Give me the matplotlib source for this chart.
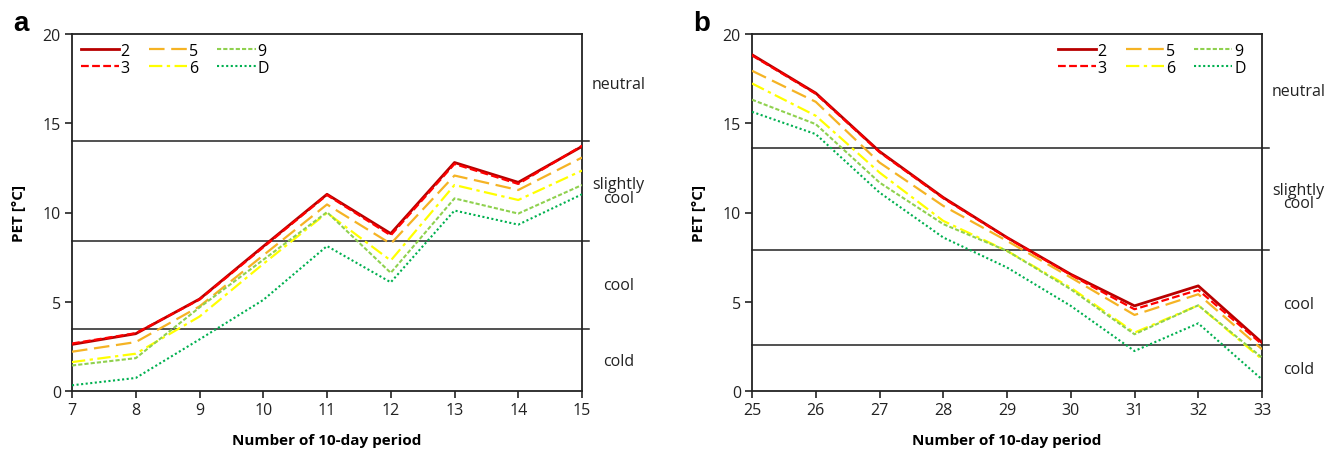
import matplotlib
matplotlib.use('Agg')
import matplotlib.pyplot as plt
import matplotlib.transforms as mtransforms

plt.rcParams['font.family'] = ['Open Sans', 'DejaVu Sans']
plt.rcParams['font.size'] = 11.5

# ---- data ----
series_names = ['2', '3', '5', '6', '9', 'D']

periods_a = [7, 8, 9, 10, 11, 12, 13, 14, 15]
pet_a = {
    '2': [2.61, 3.21, 5.15, 8.10, 11.02, 8.82, 12.80, 11.69, 13.70],
    '3': [2.66, 3.24, 5.12, 8.05, 10.98, 8.72, 12.72, 11.60, 13.74],
    '5': [2.20, 2.74, 4.74, 7.60, 10.45, 8.25, 12.07, 11.26, 13.08],
    '6': [1.62, 2.09, 4.17, 7.12, 9.98, 7.31, 11.54, 10.70, 12.35],
    '9': [1.43, 1.84, 4.68, 7.35, 10.02, 6.62, 10.79, 9.94, 11.54],
    'D': [0.32, 0.73, 2.89, 5.10, 8.12, 6.09, 10.11, 9.32, 11.02],
}
limits_a = [14.0, 8.4, 3.5]

periods_b = [25, 26, 27, 28, 29, 30, 31, 32, 33]
pet_b = {
    '2': [18.84, 16.69, 13.42, 10.84, 8.60, 6.54, 4.77, 5.89, 2.71],
    '3': [18.80, 16.65, 13.38, 10.80, 8.58, 6.50, 4.58, 5.66, 2.62],
    '5': [17.94, 16.20, 12.80, 10.37, 8.41, 6.36, 4.26, 5.42, 2.34],
    '6': [17.23, 15.42, 12.24, 9.53, 7.85, 5.79, 3.27, 4.80, 1.78],
    '9': [16.32, 14.95, 11.68, 9.35, 7.85, 5.70, 3.18, 4.80, 1.87],
    'D': [15.64, 14.39, 11.12, 8.60, 6.92, 4.77, 2.24, 3.79, 0.65],
}
limits_b = [13.64, 7.89, 2.58]

classes = ['neutral', 'slightly\ncool', 'cool', 'cold']

# ---- styles ----
styles = {
    '2': dict(color='#B80000', lw=2.0, ls='-'),
    '3': dict(color='#FF0000', lw=1.6, ls=(0, (3.5, 1.5))),
    '5': dict(color='#F5B324', lw=1.6, ls=(0, (7, 3))),
    '6': dict(color='#FFFF00', lw=1.6, ls=(0, (6, 2, 1.5, 2))),
    '9': dict(color='#8FD14F', lw=1.5, ls=(0, (2, 1))),
    'D': dict(color='#00B050', lw=1.5, ls=(0, (1, 1.2))),
}


def panel(ax, periods, pet, limits, class_y, letter, legend_loc, legend_anchor):
    for name in series_names:
        ax.plot(periods, pet[name], label=name, zorder=3, **styles[name])
    for lim in limits:
        ax.axhline(lim, xmin=0, xmax=1.013, color='#222222', lw=1.1,
                   clip_on=False, zorder=2)
    ax.set_xlim(periods[0], periods[-1])
    ax.set_ylim(0, 20)
    ax.set_xticks(periods)
    ax.set_yticks([0, 5, 10, 15, 20])
    ax.tick_params(direction='out', length=5, width=1.2, colors='#222222',
                   labelcolor='#222222', labelsize=11.5, pad=3)
    for sp in ax.spines.values():
        sp.set_color('#222222')
        sp.set_linewidth(1.3)
    ax.set_xlabel('Number of 10-day period', fontweight='bold', fontsize=11,
                  labelpad=11)
    ax.set_ylabel('PET [°C]', fontweight='bold', fontsize=11, labelpad=12)

    trans = mtransforms.blended_transform_factory(ax.transAxes, ax.transData)
    for txt, yy in zip(classes, class_y):
        ax.text(1.072, yy, txt, transform=trans, ha='center', va='center',
                fontsize=11.5, linespacing=0.8, color='#222222')

    ax.text(-0.115, 1.03, letter, transform=ax.transAxes, fontsize=20,
            fontweight='bold', ha='left', va='center',
            family=['Liberation Sans', 'DejaVu Sans'])

    ax.legend(ncol=3, loc=legend_loc, bbox_to_anchor=legend_anchor,
              frameon=False, handlelength=2.4, handletextpad=0.1,
              columnspacing=1.2, labelspacing=0.05, fontsize=11.5,
              borderaxespad=0.15)


fig = plt.figure(figsize=(13.38, 4.52), dpi=100)
ax_a = fig.add_axes([72 / 1338, 60 / 452, 510 / 1338, 357 / 452])
ax_b = fig.add_axes([752 / 1338, 60 / 452, 510 / 1338, 357 / 452])

panel(ax_a, periods_a, pet_a, limits_a, [17.2, 11.2, 5.95, 1.7], 'a',
      'upper left', (0.0, 1.0))
panel(ax_b, periods_b, pet_b, limits_b, [16.8, 10.9, 4.9, 1.25], 'b',
      'upper right', (0.985, 1.0))

fig.savefig('out.png', dpi=100)
